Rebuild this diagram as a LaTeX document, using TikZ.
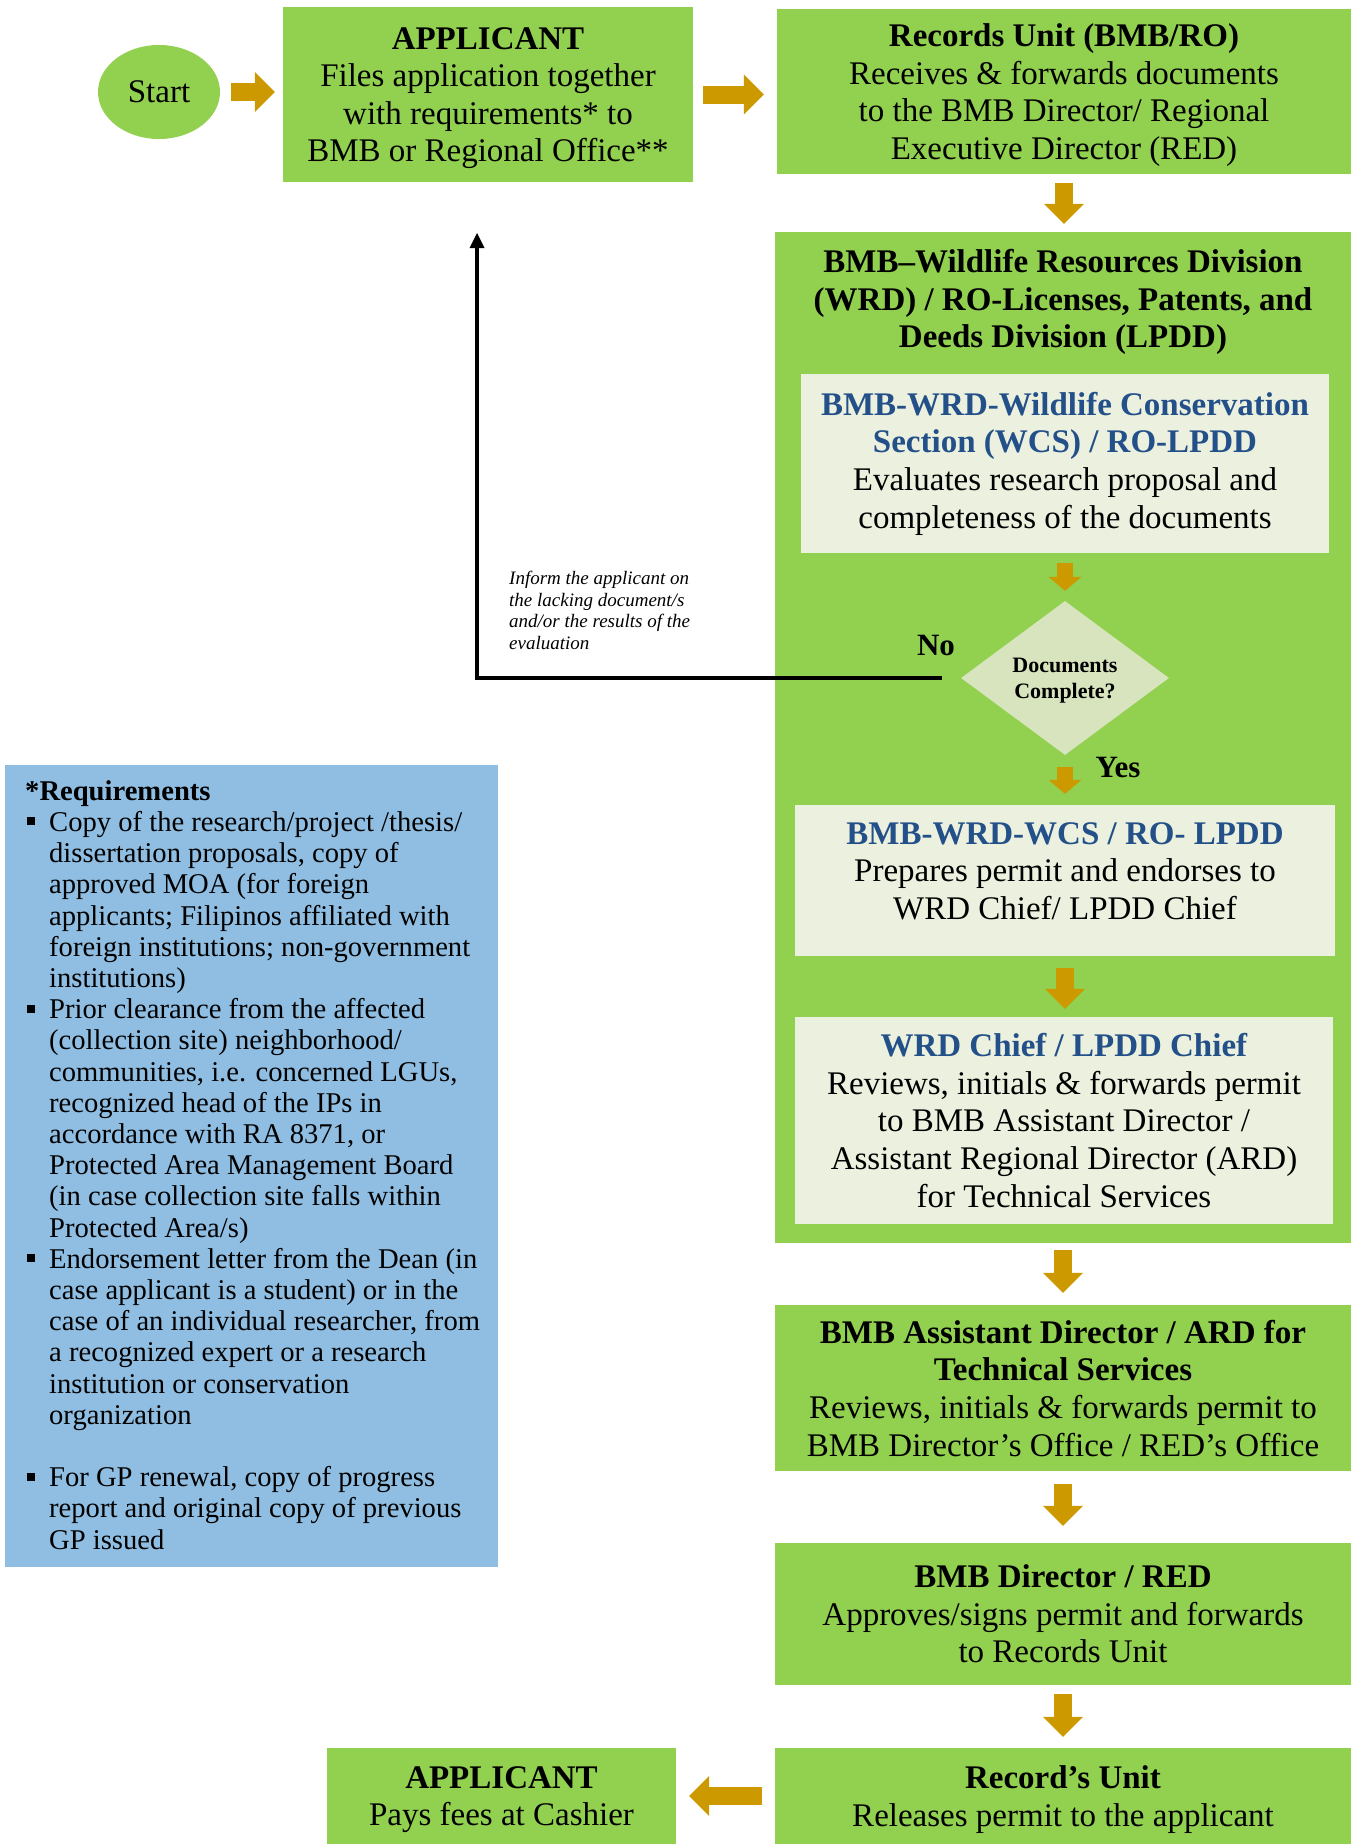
\documentclass[tikz,border=0pt]{standalone}
\usepackage{fontspec}
\setmainfont{Liberation Serif}
\usetikzlibrary{shapes.geometric,arrows.meta,calc}
\definecolor{grn}{HTML}{92D050}
\definecolor{arrgold}{HTML}{CC9900}
\definecolor{pale}{HTML}{EBF1DE}
\definecolor{dia}{HTML}{D7E4BD}
\definecolor{reqblue}{HTML}{8FBEE2}
\definecolor{ttlblue}{HTML}{24508A}
\newcommand{\fsmain}{\fontsize{33pt}{37.6pt}\selectfont}
\newcommand{\fsreq}{\fontsize{28.6pt}{31.2pt}\selectfont}
\newcommand{\fsit}{\fontsize{19pt}{21.8pt}\selectfont\itshape}
\newcommand{\fsdec}{\fontsize{22pt}{26pt}\selectfont\bfseries}
\newcommand{\fsyn}{\fontsize{31pt}{31pt}\selectfont\bfseries}
\newcommand{\tb}[1]{\textcolor{ttlblue}{\textbf{#1}}}
\newcommand{\bsq}{\makebox[24pt][l]{\hspace*{2pt}\rule[6pt]{8pt}{8pt}}}
\newcommand{\ind}{\hspace*{24pt}}
\begin{document}
\begin{tikzpicture}[x=1pt,y=-1pt,
  box/.style={rectangle, fill=grn, inner sep=0pt, align=center, font=\fsmain},
  pbox/.style={rectangle, fill=pale, inner sep=0pt, align=center, font=\fsmain},
  barrow/.style={draw=arrgold, line width=18pt, -{Triangle[width=40pt,length=20pt,line width=0pt]}},
  sarrow/.style={draw=arrgold, line width=16pt, -{Triangle[width=33pt,length=14pt,line width=0pt]}},
  fb/.style={draw=black, line width=3.3pt, -{Triangle[width=15pt,length=15pt,line width=0pt]}}
]
\useasboundingbox (0,0) rectangle (1351,1844);

% top row
\node[ellipse, fill=grn, minimum width=122pt, minimum height=94pt, inner sep=0pt, font=\fsmain] (start) at (159,92) {Start};
\node[box, text depth=0pt, minimum width=410pt, minimum height=175pt] (app1) at (488,94.5)
  {\textbf{APPLICANT}\\ Files application together\\ with requirements* to\\ BMB or Regional Office**};
\node[box, text depth=0pt, minimum width=574pt, minimum height=165pt] (rec1) at (1064,91.5)
  {\textbf{Records Unit (BMB/RO)}\\ Receives \& forwards documents\\ to the BMB Director/ Regional\\ Executive Director (RED)};

% big WRD box
\node[box, minimum width=576pt, minimum height=1011pt] (wrd) at (1063,737.5) {};
\node[align=center, font=\fsmain\bfseries, inner sep=0pt] (wrdtitle) at (1063,302)
  {BMB–Wildlife Resources Division\\ (WRD) / RO-Licenses, Patents, and\\ Deeds Division (LPDD)};
\node[pbox, minimum width=528pt, minimum height=179pt] (wcs) at (1065,463.5)
  {\tb{BMB-WRD-Wildlife Conservation}\\ \tb{Section (WCS) / RO-LPDD}\\ Evaluates research proposal and\\ completeness of the documents};
\node[diamond, fill=dia, aspect=1.35, minimum width=208pt, minimum height=154pt, inner sep=0pt, align=center, font=\fsdec, text depth=0pt] (dec) at (1065,678)
  {Documents\\ Complete?};
\node[font=\fsyn, inner sep=0pt] (no) at (936,645) {No};
\node[font=\fsyn, inner sep=0pt] (yes) at (1118,767) {Yes};
\node[pbox, minimum width=540pt, minimum height=151pt] (wcs2) at (1065,880.5)
  {\tb{BMB-WRD-WCS / RO- LPDD}\\ Prepares permit and endorses to\\ WRD Chief/ LPDD Chief\\[-18pt]\mbox{}};
\node[pbox, minimum width=538pt, minimum height=207pt] (chief) at (1064,1120.5)
  {\tb{WRD Chief / LPDD Chief}\\ Reviews, initials \& forwards permit\\ to BMB Assistant Director /\\ Assistant Regional Director (ARD)\\ for Technical Services};

% lower boxes
\node[box, text depth=0pt, minimum width=576pt, minimum height=166pt] (asst) at (1063,1388)
  {\textbf{BMB Assistant Director / ARD for}\\ \textbf{Technical Services}\\ Reviews, initials \& forwards permit to\\ BMB Director’s Office / RED’s Office};
\node[box, minimum width=576pt, minimum height=142pt] (dir) at (1063,1614)
  {\textbf{BMB Director / RED}\\ Approves/signs permit and forwards\\ to Records Unit};
\node[box, text depth=0pt, minimum width=576pt, minimum height=96pt] (rel) at (1063,1796)
  {\textbf{Record’s Unit}\\ Releases permit to the applicant};
\node[box, text depth=0pt, minimum width=349pt, minimum height=96pt] (app2) at (501.5,1796)
  {\textbf{APPLICANT}\\ Pays fees at Cashier};

% requirements box
\node[rectangle, fill=reqblue, minimum width=493pt, minimum height=802pt, inner sep=0pt] (req) at (251.5,1166) {};
\node[anchor=north west, align=left, inner sep=0pt, font=\fsreq] (reqtext) at (25,778)
  {\rule{0pt}{22pt}\textbf{*Requirements}\\
   \bsq Copy of the research/project /thesis/\\
   \ind dissertation proposals, copy of\\
   \ind approved MOA (for foreign\\
   \ind applicants; Filipinos affiliated with\\
   \ind foreign institutions; non-government\\
   \ind institutions)\\
   \bsq Prior clearance from the affected\\
   \ind (collection site) neighborhood/\\
   \ind communities, i.e. concerned LGUs,\\
   \ind recognized head of the IPs in\\
   \ind accordance with RA 8371, or\\
   \ind Protected Area Management Board\\
   \ind (in case collection site falls within\\
   \ind Protected Area/s)\\
   \bsq Endorsement letter from the Dean (in\\
   \ind case applicant is a student) or in the\\
   \ind case of an individual researcher, from\\
   \ind a recognized expert or a research\\
   \ind institution or conservation\\
   \ind organization\\[31.2pt]
   \bsq For GP renewal, copy of progress\\
   \ind report and original copy of previous\\
   \ind GP issued};

% feedback note
\node[anchor=north west, align=left, inner sep=0pt, font=\fsit] (note) at (509,569)
  {\rule{0pt}{15pt}Inform the applicant on\\ the lacking document/s\\ and/or the results of the\\ evaluation};
\coordinate (fbend) at (477,233);
\draw[fb, shorten <=19pt] (dec.west) -| (fbend);

% block arrows
\draw[barrow, shorten <=11pt, shorten >=8pt] (start.east) -- (start.east -| app1.west);
\draw[barrow, shorten <=10pt, shorten >=13pt] (app1.east) -- (app1.east -| rec1.west);
\draw[barrow, shorten <=9pt, shorten >=8pt] (rec1.south) -- (rec1.south |- wrd.north);
\draw[sarrow, shorten <=10pt, shorten >=10pt] (wcs.south) -- (dec.north);
\draw[sarrow, shorten <=12pt, shorten >=11pt] (dec.south) -- (dec.south |- wcs2.north);
\draw[barrow, shorten <=12pt, shorten >=8pt] (wcs2.south) -- (wcs2.south |- chief.north);
\draw[barrow, shorten <=7pt, shorten >=12pt] (wrd.south) -- (asst.north);
\draw[barrow, shorten <=13pt, shorten >=17pt] (asst.south) -- (dir.north);
\draw[barrow, shorten <=9pt, shorten >=11pt] (dir.south) -- (rel.north);
\draw[barrow, shorten <=13pt, shorten >=13pt] (rel.west) -- (rel.west -| app2.east);
\end{tikzpicture}
\end{document}
